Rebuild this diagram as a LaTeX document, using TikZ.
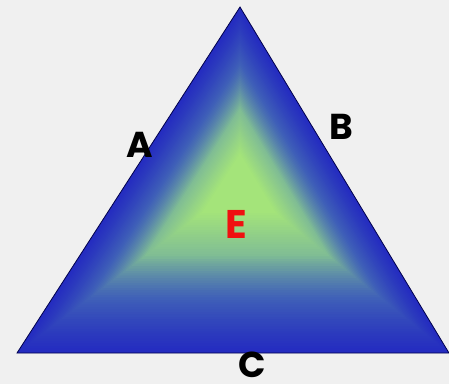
\documentclass[tikz,border=0pt]{standalone}
\usepackage{fontspec}
\setmainfont{Poppins}
\usetikzlibrary{calc}
\definecolor{bgpaper}{RGB}{240,240,240}
\definecolor{edgeblue}{RGB}{36,44,192}
\definecolor{midteal}{RGB}{92,150,175}
\definecolor{coregreen}{RGB}{164,228,122}
\definecolor{labelred}{RGB}{240,16,16}
\tikzset{
  sidelabel/.style={font=\bfseries\fontsize{36}{36}\selectfont, text=black, inner sep=0pt},
  midlabel/.style={font=\bfseries\fontsize{40}{40}\selectfont, text=labelred, inner sep=0pt}
}

\begin{document}
\begin{tikzpicture}[x=1pt,y=1pt]
  % Paper
  \fill[bgpaper] (0,0) rectangle (449,384);
  \useasboundingbox (0,0) rectangle (449,384);

  % Corners and centre of the shading
  \coordinate (top) at (240,377);
  \coordinate (left) at (17,31);
  \coordinate (right) at (449,31);
  \coordinate (core) at (240,200);

  % Shading: nested triangles from blue edge to green core
  \foreach \i in {0,...,70} {
    \pgfmathsetmacro{\s}{1-\i/70}
    \pgfmathsetmacro{\p}{min(100,100*(\i/40)^1.2)}
    \pgfmathsetmacro{\q}{min(100,max(0,100*(\i-22)/36))}
    \fill[coregreen!\q!midteal!\p!edgeblue]
      ($(core)!\s!(top)$) -- ($(core)!\s!(left)$) -- ($(core)!\s!(right)$) -- cycle;
  }

  % Outline
  \draw[black!70!blue, line width=0.8pt] (top) -- (left) -- (right) -- cycle;

  % Labels
  \node[sidelabel] (lblA) at (140,239) {A};
  \node[sidelabel] (lblB) at (341,257) {B};
  \node[sidelabel] (lblC) at (252,19) {C};
  \node[midlabel] (lblE) at (236,160) {E};
\end{tikzpicture}
\end{document}
